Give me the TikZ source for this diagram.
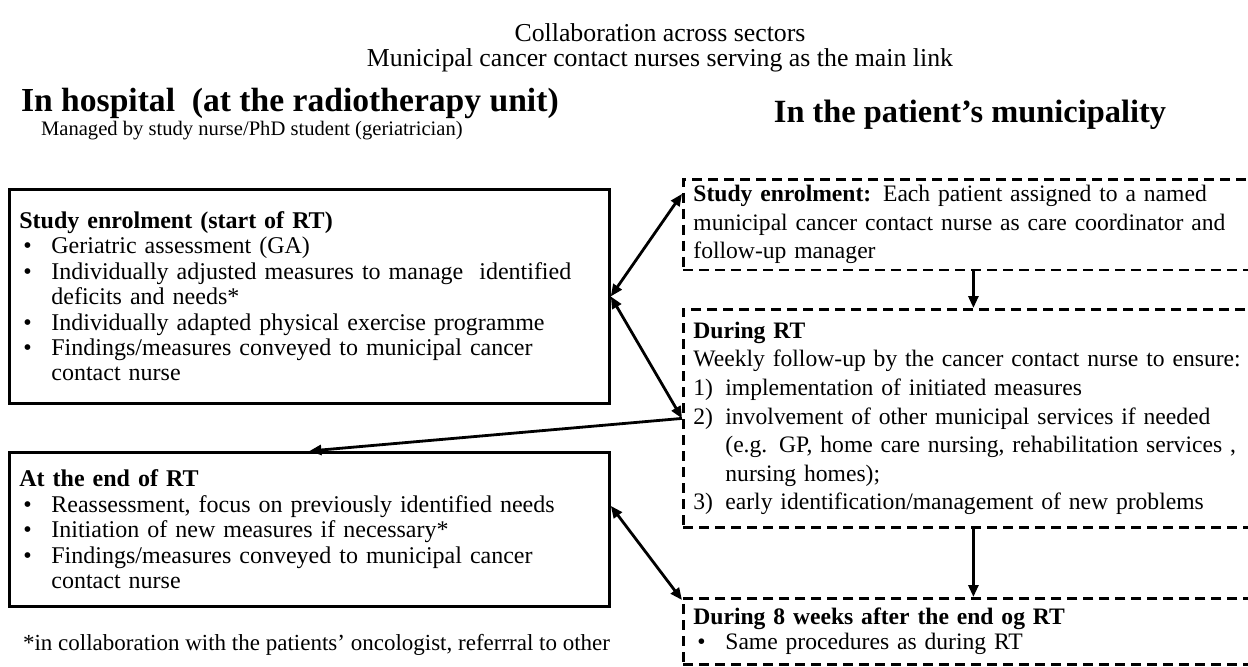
\documentclass[tikz,border=0pt]{standalone}
\usepackage{fontspec}
\setmainfont{Liberation Serif}
\usetikzlibrary{arrows.meta,calc}

\tikzset{
  hospbox/.style={draw, line width=1.4pt, anchor=north west, align=left,
    inner xsep=5pt, inner ysep=3pt, text width=290pt,
    font=\fontsize{12}{12.7}\selectfont},
  muncbox/.style={hospbox, dash pattern=on 5pt off 3pt, text width=280pt,
    font=\fontsize{11.8}{14.3}\selectfont},
  link/.style={line width=1.4pt, -{Triangle[length=6pt,width=5pt]}},
  twoway/.style={line width=1.4pt,
    {Triangle[length=6pt,width=5pt]}-{Triangle[length=6pt,width=5pt]}},
  heading/.style={font=\bfseries\fontsize{16.8}{19}\selectfont},
}
\newcommand{\bul}{\hspace*{2pt}\makebox[14pt][l]{\textbullet}}
\newcommand{\ind}{\hspace*{16pt}}
\newcommand{\num}[1]{\makebox[16pt][l]{#1}}

\begin{document}
\begin{tikzpicture}[x=0.5pt, y=-0.5pt]
  \useasboundingbox (0,0) rectangle (1248,666);
  \clip (0,0) rectangle (1248,666);

  % titles
  \node[font=\fontsize{12.9}{15}\selectfont] (title) at (660,33) {Collaboration across sectors};
  \node[font=\fontsize{12.9}{15}\selectfont] (subtitle) at (660,60) {Municipal cancer contact nurses serving as the main link};

  \node[heading, anchor=west] (hosp) at (14,103) {In hospital\ \ (at the radiotherapy unit)};
  \node[anchor=west, font=\fontsize{10.3}{13}\selectfont] (managed) at (34,131) {Managed by study nurse/PhD student (geriatrician)};
  \node[heading, font=\bfseries\fontsize{16.2}{19}\selectfont] (munc) at (970,115) {In the patient’s municipality};

  % hospital side
  \node[hospbox, minimum height=107pt] (start) at (8,188) {%
    \textbf{Study enrolment (start of RT)}\\
    \bul Geriatric assessment (GA)\\
    \bul Individually adjusted measures to manage\ \ identified\\
    \ind deficits and needs*\\
    \bul Individually adapted physical exercise programme\\
    \bul Findings/measures conveyed to municipal cancer\\
    \ind contact nurse};

  \node[hospbox, minimum height=77pt] (finish) at (8,451) {%
    \textbf{At the end of RT}\\
    \bul Reassessment, focus on previously identified needs\\
    \bul Initiation of new measures if necessary*\\
    \bul Findings/measures conveyed to municipal cancer\\
    \ind contact nurse};

  \node[anchor=west, font=\fontsize{11.5}{13}\selectfont] (note) at (16,645) {*in collaboration with the patients’ oncologist, referrral to other};

  % municipality side
  \node[muncbox, minimum height=45pt] (assign) at (682,178) {%
    \textbf{Study enrolment:} Each patient assigned to a named\\
    municipal cancer contact nurse as care coordinator and\\
    follow-up manager};

  \node[muncbox, minimum height=109pt] (during) at (682,308) {%
    \textbf{During RT}\\
    Weekly follow-up by the cancer contact nurse to ensure:\\
    \num{1)}implementation of initiated measures\\
    \num{2)}involvement of other municipal services if needed\\
    \ind (e.g. GP, home care nursing, rehabilitation services ,\\
    \ind nursing homes);\\
    \num{3)}early identification/management of new problems};

  \node[muncbox, minimum height=33pt, font=\fontsize{11.8}{12.5}\selectfont] (after) at (682,597) {%
    \textbf{During 8 weeks after the end og RT}\\
    \bul Same procedures as during RT};

  \coordinate (assignin) at ($(assign.north west)!0.17!(assign.south west)$);
  \coordinate (finishout) at ($(finish.north east)!0.35!(finish.south east)$);
  \coordinate (afterin) at ($(after.north west)+(0,3)$);

  % connectors
  \draw[twoway] (start.east) -- (assignin);
  \draw[twoway] (start.east) -- (during.west);
  \draw[link] (during.west) -- (finish.north);
  \draw[twoway] (finishout) -- (afterin);
  \draw[link] (assign.south) -- (during.north);
  \draw[link] (during.south) -- (after.north);
\end{tikzpicture}
\end{document}
